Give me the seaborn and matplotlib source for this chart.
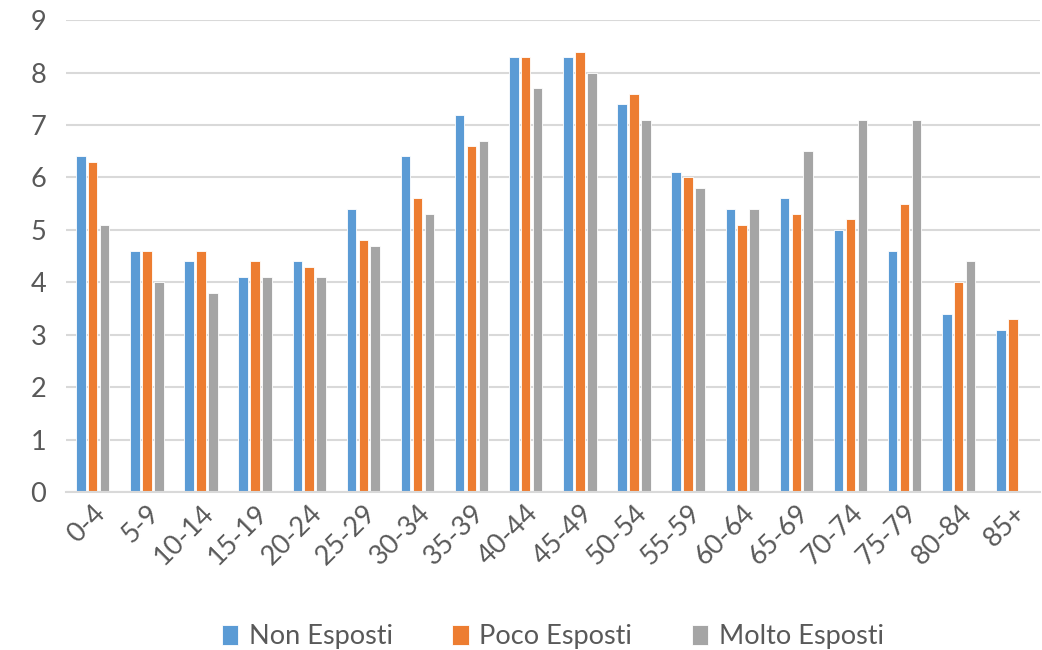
import numpy as np
import pandas as pd
import matplotlib
matplotlib.use("Agg")
import matplotlib.pyplot as plt
import seaborn as sns

age_groups = ["0-4", "5-9", "10-14", "15-19", "20-24", "25-29", "30-34", "35-39",
              "40-44", "45-49", "50-54", "55-59", "60-64", "65-69", "70-74",
              "75-79", "80-84", "85+"]
non_esposti = [6.4, 4.6, 4.4, 4.1, 4.4, 5.4, 6.4, 7.2, 8.3, 8.3, 7.4, 6.1, 5.4, 5.6, 5.0, 4.6, 3.4, 3.1]
poco_esposti = [6.3, 4.6, 4.6, 4.4, 4.3, 4.8, 5.6, 6.6, 8.3, 8.4, 7.6, 6.0, 5.1, 5.3, 5.2, 5.5, 4.0, 3.3]
molto_esposti = [5.1, 4.0, 3.8, 4.1, 4.1, 4.7, 5.3, 6.7, 7.7, 8.0, 7.1, 5.8, 5.4, 6.5, 7.1, 7.1, 4.4, np.nan]
series_names = ["Non Esposti", "Poco Esposti", "Molto Esposti"]
colors = ["#5B9BD5", "#ED7D31", "#A5A5A5"]

df = pd.DataFrame({
    "Età": age_groups * 3,
    "Valore": non_esposti + poco_esposti + molto_esposti,
    "Gruppo": [series_names[0]] * len(age_groups)
              + [series_names[1]] * len(age_groups)
              + [series_names[2]] * len(age_groups),
})

sns.set_theme(style="white")
plt.rcParams["font.family"] = ["Lato", "DejaVu Sans"]
text_color = "#595959"
fs = 19.5

fig = plt.figure(figsize=(10.42, 6.5), dpi=100)
ax = fig.add_axes([0.063, 0.243, 0.935, 0.726])

sns.barplot(data=df, x="Età", y="Valore", hue="Gruppo", order=age_groups,
            hue_order=series_names, palette=colors, width=0.66, gap=0.2,
            edgecolor="white", linewidth=0.6, saturation=1, ax=ax, legend=True)

ax.set_ylim(0, 9)
ax.set_xlim(-0.5, len(age_groups) - 0.5)
ax.set_yticks(range(0, 10))
ax.yaxis.grid(True, color="#d9d9d9", linewidth=1.5)
ax.set_axisbelow(True)
for s in ["top", "right", "left"]:
    ax.spines[s].set_visible(False)
ax.spines["bottom"].set_color("#d9d9d9")
ax.spines["bottom"].set_linewidth(1.5)
ax.set_xlabel("")
ax.set_ylabel("")
ax.tick_params(axis="both", length=0, labelsize=fs, labelcolor=text_color)
ax.tick_params(axis="y", pad=14)
ax.tick_params(axis="x", pad=6)
for lab in ax.get_xticklabels():
    lab.set_rotation(45)
    lab.set_ha("right")
    lab.set_rotation_mode("anchor")

handles, labels = ax.get_legend_handles_labels()
ax.legend(handles, labels, loc="lower center", bbox_to_anchor=(0.5, -0.385),
          ncol=3, frameon=False, fontsize=fs, labelcolor=text_color,
          handlelength=0.6, handleheight=0.75, handletextpad=0.4, columnspacing=2.2,
          bbox_transform=ax.transAxes)

fig.savefig("out.png", dpi=100)
